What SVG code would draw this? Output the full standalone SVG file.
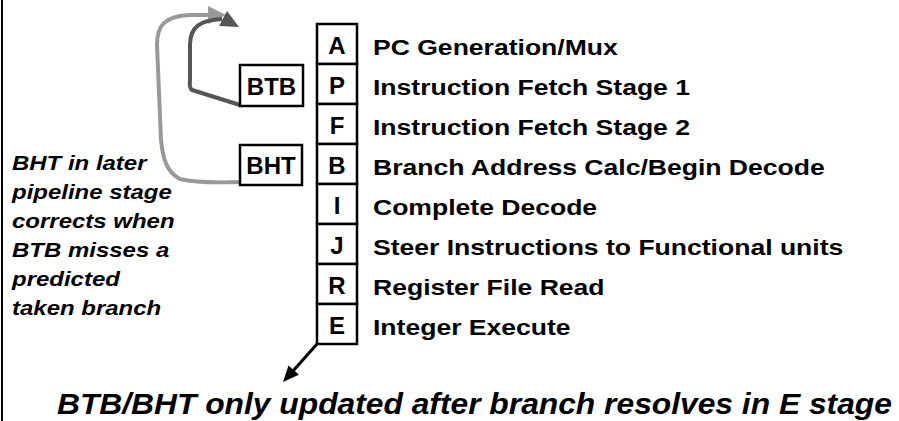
<svg xmlns="http://www.w3.org/2000/svg" width="899" height="421" viewBox="0 0 899 421">
<style>
text{font-family:"Liberation Sans",Arial,sans-serif;font-weight:bold;fill:#000}
.box{fill:#fff;stroke:#000;stroke-width:2.5}
.st{font-size:24px;text-anchor:middle}
.lbl{font-size:22.5px}
.note{font-size:19.5px;font-style:italic}
.big{font-size:29px;font-style:italic}
.dk{fill:none;stroke:#555;stroke-width:4;stroke-linejoin:round}
.lt{fill:none;stroke:#999;stroke-width:4;stroke-linejoin:round}
</style>
<rect width="899" height="421" fill="#fff"/>
<line x1="2" y1="0" x2="2" y2="421" stroke="#000" stroke-width="2"/>

<g id="connectors">
  <path class="lt" d="M240,182 C212,183 192,182 180,179 C167,172 163,160 161,140 L157,45 C157,25 165,16 190,15 L210,15"/>
  <polygon points="226,15 208,6 208,24" fill="#999"/>
  <path class="dk" d="M240,105 L192,90 Q189,88 190,80 L190,45 C190,27 200,20 222,19"/>
  <polygon points="239,27 227,11 219,26" fill="#555"/>
  <line x1="317" y1="344" x2="293" y2="371" stroke="#000" stroke-width="3"/>
  <polygon points="283,382 288.5,365.4 298.9,374.8" fill="#000"/>
</g>

<g id="stage-A"><rect class="box" x="317" y="24" width="40" height="40"/><text class="st" x="337" y="54">A</text><text class="lbl" transform="translate(373 55) scale(1.18 1)">PC Generation/Mux</text></g>
<g id="stage-P"><rect class="box" x="317" y="64" width="40" height="40"/><text class="st" x="337" y="94">P</text><text class="lbl" transform="translate(373 95) scale(1.18 1)">Instruction Fetch Stage 1</text></g>
<g id="stage-F"><rect class="box" x="317" y="104" width="40" height="40"/><text class="st" x="337" y="134">F</text><text class="lbl" transform="translate(373 135) scale(1.18 1)">Instruction Fetch Stage 2</text></g>
<g id="stage-B"><rect class="box" x="317" y="144" width="40" height="40"/><text class="st" x="337" y="174">B</text><text class="lbl" transform="translate(373 175) scale(1.18 1)">Branch Address Calc/Begin Decode</text></g>
<g id="stage-I"><rect class="box" x="317" y="184" width="40" height="40"/><text class="st" x="337" y="214">I</text><text class="lbl" transform="translate(373 215) scale(1.18 1)">Complete Decode</text></g>
<g id="stage-J"><rect class="box" x="317" y="224" width="40" height="40"/><text class="st" x="337" y="254">J</text><text class="lbl" transform="translate(373 255) scale(1.18 1)">Steer Instructions to Functional units</text></g>
<g id="stage-R"><rect class="box" x="317" y="264" width="40" height="40"/><text class="st" x="337" y="294">R</text><text class="lbl" transform="translate(373 295) scale(1.18 1)">Register File Read</text></g>
<g id="stage-E"><rect class="box" x="317" y="304" width="40" height="40"/><text class="st" x="337" y="334">E</text><text class="lbl" transform="translate(373 335) scale(1.18 1)">Integer Execute</text></g>

<g id="btb"><rect class="box" x="240" y="65" width="63" height="41"/><text class="st" x="271.5" y="95">BTB</text></g>
<g id="bht"><rect class="box" x="240" y="145" width="62" height="40"/><text class="st" x="271" y="174">BHT</text></g>

<g id="note">
  <text class="note" transform="translate(12 170) scale(1.23 1)">BHT in later</text>
  <text class="note" transform="translate(12 199) scale(1.23 1)">pipeline stage</text>
  <text class="note" transform="translate(12 228) scale(1.23 1)">corrects when</text>
  <text class="note" transform="translate(12 257) scale(1.23 1)">BTB misses a</text>
  <text class="note" transform="translate(12 286) scale(1.23 1)">predicted</text>
  <text class="note" transform="translate(12 315) scale(1.23 1)">taken branch</text>
</g>
<g id="footer">
  <text class="big" transform="translate(57 414) scale(1.096 1)">BTB/BHT only updated after branch resolves in E stage</text>
</g>
</svg>
